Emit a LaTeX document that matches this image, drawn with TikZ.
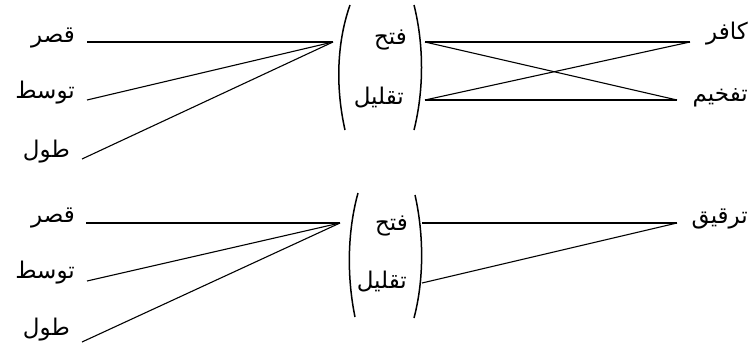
\documentclass[tikz,border=0pt]{standalone}
\usepackage{fontspec}
\newfontfamily\arabicfont[Script=Arabic]{DejaVu Sans}
\TeXXeTstate=1
\newcommand{\ar}[1]{\arabicfont\beginR #1\endR}
\begin{document}
\begin{tikzpicture}[x=1pt,y=-1pt,
  lbl/.style={inner sep=0pt,anchor=east,font=\fontsize{23}{26}\selectfont},
  conn/.style={line width=1.1pt,black},
  paren/.style={line width=1.5pt,black}]
\useasboundingbox (0,0) rectangle (754,356);
% ---------- top block ----------
\node[lbl] (q1) at (75,38) {\ar{قصر}};
\node[lbl] (t1) at (75,93) {\ar{توسط}};
\node[lbl] (w1) at (70,152) {\ar{طول}};
\coordinate (q1e) at (87,42);
\coordinate (t1e) at (87,100);
\coordinate (w1e) at (82,159);
\coordinate (c1) at (333,42);
\draw[conn] (q1e) -- (c1);
\draw[conn] (t1e) -- (c1);
\draw[conn] (w1e) -- (c1);
\node[lbl] (f1) at (407,40) {\ar{فتح}};
\node[lbl] (l1) at (404,98) {\ar{تقليل}};
\draw[paren] (350,5) .. controls (336,45) and (336,90) .. (345,130);
\draw[paren] (414,5) .. controls (424,45) and (424,90) .. (414,130);
\coordinate (r1a) at (425,42);
\coordinate (r1b) at (425,100);
\coordinate (k1) at (690,42);
\coordinate (h1) at (677,100);
\node[lbl] (kf) at (748,34) {\ar{كافر}};
\node[lbl] (tf) at (748,98) {\ar{تفخيم}};
\draw[conn] (r1a) -- (k1);
\draw[conn] (r1a) -- (h1);
\draw[conn] (r1b) -- (k1);
\draw[conn] (r1b) -- (h1);
% ---------- bottom block ----------
\node[lbl] (q2) at (75,218) {\ar{قصر}};
\node[lbl] (t2) at (75,273) {\ar{توسط}};
\node[lbl] (w2) at (70,330) {\ar{طول}};
\coordinate (q2e) at (86,223);
\coordinate (t2e) at (87,281);
\coordinate (w2e) at (82,342);
\coordinate (c2) at (340,223);
\draw[conn] (q2e) -- (c2);
\draw[conn] (t2e) -- (c2);
\draw[conn] (w2e) -- (c2);
\node[lbl] (f2) at (408,226) {\ar{فتح}};
\node[lbl] (l2) at (407,282) {\ar{تقليل}};
\draw[paren] (358,193) .. controls (347,233) and (347,278) .. (355,317);
\draw[paren] (415,195) .. controls (424,235) and (424,280) .. (414,318);
\coordinate (r2a) at (422,223);
\coordinate (r2b) at (422,283);
\coordinate (k2) at (677,223);
\node[lbl] (rq) at (748,219) {\ar{ترقيق}};
\draw[conn] (r2a) -- (k2);
\draw[conn] (r2b) -- (k2);
\end{tikzpicture}
\end{document}
